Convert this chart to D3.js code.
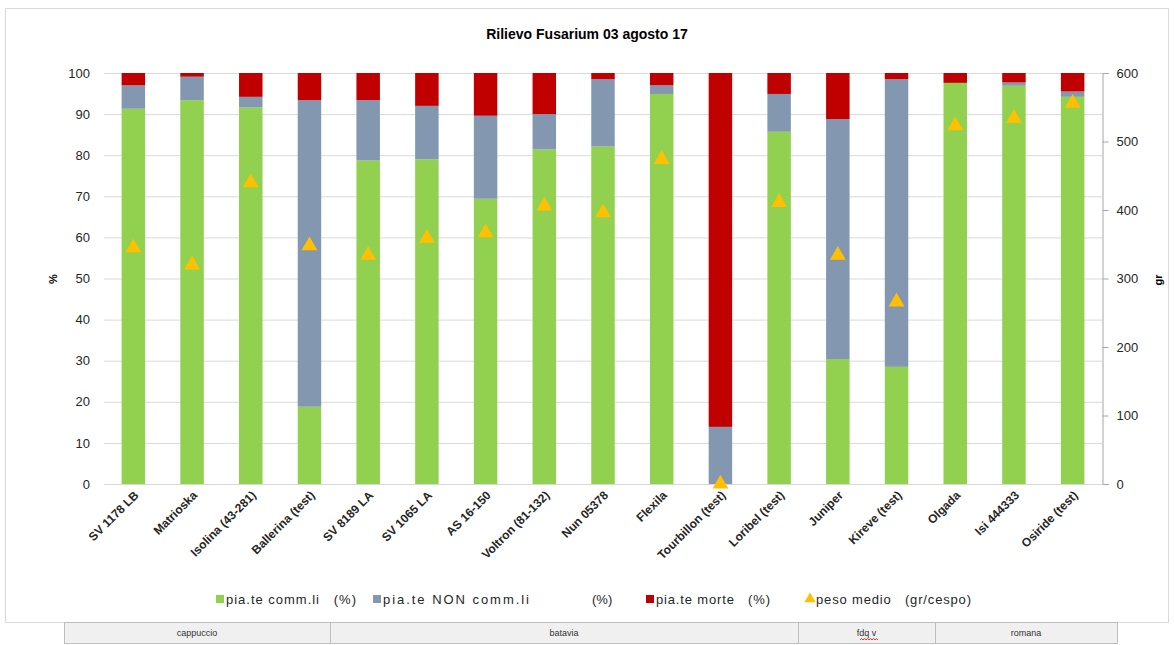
<!DOCTYPE html>
<html><head><meta charset="utf-8">
<script src="https://cdn.jsdelivr.net/npm/d3@7"></script>
<style>
body{margin:0;background:#fff;}
svg{display:block;font-family:"Liberation Sans",Arial,sans-serif;}
</style></head>
<body><svg id="c" width="1174" height="645"></svg>
<script>
const categories = ["SV 1178 LB","Matrioska","Isolina (43-281)","Ballerina (test)","SV 8189 LA","SV 1065 LA","AS 16-150","Voltron (81-132)","Nun 05378","Flexila","Tourbillon (test)","Loribel (test)","Juniper","Kireve (test)","Olgada","Isi 444333","Osiride (test)"];
const comm    = [91.3,93.4,91.6,18.8,78.7,79.0,69.4,81.4,82.1,94.9,0,85.7,30.4,28.5,97.6,96.9,94.2];
const nonComm = [5.7,5.7,2.6,74.6,14.7,13.0,20.2,8.6,16.4,2.1,13.9,9.2,58.4,70.0,0,0.8,1.3];
const morte   = [3.0,0.9,5.8,6.6,6.6,8.0,10.4,10.0,1.5,3.0,86.1,5.1,11.2,1.5,2.4,2.3,4.5];
const peso    = [345,320,440,348,334,359,367,406,396,474,0,411,334,266,523,534,556];
const leftTicks = [0,10,20,30,40,50,60,70,80,90,100];
const rightTicks = [0,100,200,300,400,500,600];
const groups = [{name:"cappuccio",from:0,to:266},{name:"batavia",from:266,to:734},{name:"fdq v",from:734,to:871},{name:"romana",from:871,to:1053}];

const svg = d3.select("#c");
const L = 104, R = 1102, T = 73, B = 484;
const x = d3.scaleBand().domain(categories).range([L,R]).paddingInner(0.6).paddingOuter(0.3);
const y = d3.scaleLinear().domain([0,100]).range([B,T]);
const y2 = d3.scaleLinear().domain([0,600]).range([B,T]);

// frame
svg.append("rect").attr("x",5.5).attr("y",8.5).attr("width",1163).attr("height",614).attr("fill","#fff").attr("stroke","#d9d9d9");

// title
svg.append("text").attr("x",587).attr("y",39).attr("text-anchor","middle").attr("font-size",14).attr("font-weight","bold").text("Rilievo Fusarium 03 agosto 17");

// grid
svg.append("g").selectAll("line").data(leftTicks).join("line")
  .attr("x1",L).attr("x2",R).attr("y1",d=>y(d)+0.5).attr("y2",d=>y(d)+0.5)
  .attr("stroke","#d9d9d9").attr("stroke-width",1);

// left axis
const la = svg.append("g").attr("transform",`translate(${L},0)`).call(d3.axisLeft(y).tickValues(leftTicks).tickSize(0).tickPadding(14));
la.select(".domain").remove();
la.selectAll("text").attr("font-size",13).attr("fill","#262626").attr("font-family","Liberation Sans,Arial");

// right axis
const ra = svg.append("g").attr("transform",`translate(${R+0.5},0)`).call(d3.axisRight(y2).tickValues(rightTicks).tickSize(6).tickPadding(8));
ra.select(".domain").attr("stroke","#a6a6a6");
ra.selectAll("line").attr("stroke","#a6a6a6");
ra.selectAll("text").attr("font-size",13).attr("fill","#262626").attr("font-family","Liberation Sans,Arial");

// axis titles
svg.append("text").attr("transform","translate(57,279) rotate(-90)").attr("text-anchor","middle").attr("font-size",11).attr("font-weight","bold").text("%");
svg.append("text").attr("transform","translate(1162,280) rotate(-90)").attr("text-anchor","middle").attr("font-size",11).attr("font-weight","bold").text("gr");

// stacked bars
const data = categories.map((c,i)=>({cat:c,comm:comm[i],non:nonComm[i],morte:morte[i]}));
const stack = d3.stack().keys(["comm","non","morte"])(data);
const colors = {comm:"#92D050",non:"#8497B0",morte:"#C00000"};
svg.append("g").selectAll("g").data(stack).join("g").attr("fill",s=>colors[s.key])
  .selectAll("rect").data(s=>s).join("rect")
  .attr("x",d=>x(d.data.cat)).attr("width",x.bandwidth())
  .attr("y",d=>y(d[1])).attr("height",d=>Math.max(0,y(d[0])-y(d[1])));

// bottom axis line
svg.append("line").attr("x1",L).attr("x2",R).attr("y1",B+0.5).attr("y2",B+0.5).attr("stroke","#d9d9d9");

// triangles
const tri = d3.symbol().type(d3.symbolTriangle).size(110);
svg.append("g").selectAll("path").data(peso).join("path")
  .attr("d",tri).attr("fill","#FFC000")
  .attr("transform",(d,i)=>`translate(${x(categories[i])+x.bandwidth()/2},${y2(d)})`);

// x labels
svg.append("g").selectAll("text").data(categories).join("text")
  .attr("transform",d=>`translate(${x(d)+x.bandwidth()/2+6},${B+12}) rotate(-45)`)
  .attr("text-anchor","end").attr("font-size",12).attr("font-weight","bold").attr("fill","#262626")
  .text(d=>d);

// legend
const lg = svg.append("g").attr("font-size",13).attr("fill","#262626");
const items = [
  {type:"rect",c:"#92D050",x:216,t:"pia.te comm.li   (%)",w:130},
  {type:"rect",c:"#8497B0",x:373,t:"pia.te NON comm.li",w:146},
  {type:"rect",c:"#C00000",x:646,t:"pia.te morte   (%)",w:114},
  {type:"tri",c:"#FFC000",x:806,t:"peso medio   (gr/cespo)",w:155}
];
items.forEach(it=>{
  if(it.type==="rect") lg.append("rect").attr("x",it.x).attr("y",595).attr("width",8).attr("height",8).attr("fill",it.c);
  else lg.append("path").attr("d",d3.symbol().type(d3.symbolTriangle).size(55)()).attr("transform",`translate(${it.x+4},599)`).attr("fill",it.c);
  lg.append("text").attr("x",it.x+10).attr("y",604).style("white-space","pre")
    .attr("textLength",it.w).attr("lengthAdjust","spacing").text(it.t);
});
lg.append("text").attr("x",592).attr("y",604).text("(%)");

// group table below
const gx = d3.scaleLinear().domain([0,1053]).range([64,1117]);
const tg = svg.append("g");
tg.selectAll("rect").data(groups).join("rect")
  .attr("x",d=>gx(d.from)+0.5).attr("y",622.5).attr("width",d=>gx(d.to)-gx(d.from)).attr("height",21)
  .attr("fill","#f0f0f0").attr("stroke","#bfbfbf");
tg.selectAll("text").data(groups).join("text")
  .attr("x",d=>(gx(d.from)+gx(d.to))/2).attr("y",636).attr("text-anchor","middle")
  .attr("font-size",9).attr("fill","#333").text(d=>d.name);
// spell-check squiggle under "fdq"
const sq = gx(802);
let p = `M${sq-6},640`;
for(let k=0;k<6;k++){p+=` l1.5,-1.5 l1.5,1.5`;}
tg.append("path").attr("d",p).attr("fill","none").attr("stroke","#e00").attr("stroke-width",0.8);
</script></body></html>
